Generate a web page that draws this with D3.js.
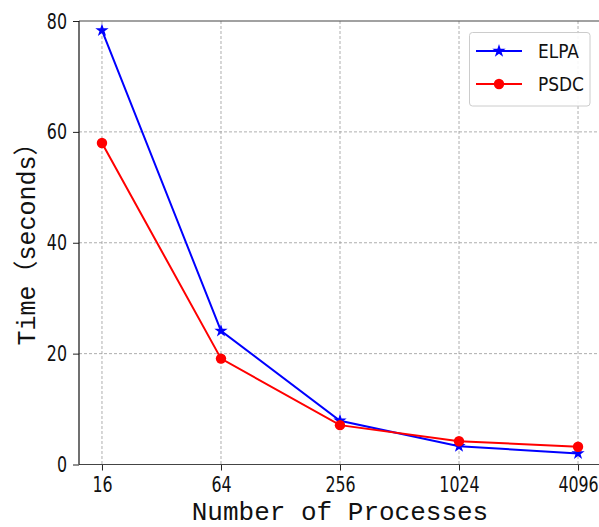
<!DOCTYPE html>
<html>
<head>
<meta charset="utf-8">
<script src="https://cdn.jsdelivr.net/npm/d3@7"></script>
<style>
  body { margin: 0; background: #fff; }
  .tick text { font-family: "DejaVu Sans", sans-serif; }
</style>
</head>
<body>
<div id="plot"></div>
<script>
// data
var procs = ["16", "64", "256", "1024", "4096"];
var elpa = [78.3, 24.1, 7.9, 3.3, 2.0];
var psdc = [58.0, 19.1, 7.1, 4.2, 3.2];
var yTicks = [0, 20, 40, 60, 80];

var width = 599, height = 527;
var mLeft = 79, mRight = 601, mTop = 21, mBottom = 464.5;
var squeeze = 0.72; // narrow look of the tick font

var svg = d3.select("#plot").append("svg")
    .attr("width", width)
    .attr("height", height);

var x = d3.scalePoint().domain(procs).range([mLeft, mRight]).padding(0.193);
var y = d3.scaleLinear().domain([0, 80]).range([mBottom, mTop]);

// grid
svg.append("g").selectAll("line")
    .data(procs).enter().append("line")
    .attr("x1", d => x(d)).attr("x2", d => x(d))
    .attr("y1", mTop).attr("y2", mBottom)
    .attr("stroke", "#999").attr("stroke-width", 0.8)
    .attr("stroke-dasharray", "3,2");
svg.append("g").selectAll("line")
    .data(yTicks.slice(1, 4)).enter().append("line")
    .attr("x1", mLeft).attr("x2", mRight)
    .attr("y1", d => y(d)).attr("y2", d => y(d))
    .attr("stroke", "#999").attr("stroke-width", 0.8)
    .attr("stroke-dasharray", "3,2");

// axes
var xAxis = svg.append("g")
    .attr("transform", "translate(0," + mBottom + ")")
    .call(d3.axisBottom(x).tickSize(6).tickPadding(6));
var yAxis = svg.append("g")
    .attr("transform", "translate(" + mLeft + ",0)")
    .call(d3.axisLeft(y).tickValues(yTicks).tickSize(6).tickPadding(6));

xAxis.select(".domain").remove();
yAxis.select(".domain").remove();
xAxis.selectAll(".tick text").attr("font-size", 22).attr("fill", "#111")
    .attr("transform", "scale(" + squeeze + ",1)");
yAxis.selectAll(".tick text").attr("font-size", 22).attr("fill", "#111")
    .attr("x", -12 / squeeze)
    .attr("transform", "scale(" + squeeze + ",1)");
xAxis.selectAll(".tick line").attr("stroke", "#222");
yAxis.selectAll(".tick line").attr("stroke", "#222");

// spines
svg.append("line").attr("x1", mLeft).attr("x2", mRight).attr("y1", mTop).attr("y2", mTop)
    .attr("stroke", "#444").attr("stroke-width", 1.2);
svg.append("line").attr("x1", mLeft).attr("x2", mRight).attr("y1", mBottom).attr("y2", mBottom)
    .attr("stroke", "#444").attr("stroke-width", 1.2);
svg.append("line").attr("x1", mLeft).attr("x2", mLeft).attr("y1", mTop).attr("y2", mBottom)
    .attr("stroke", "#111").attr("stroke-width", 1.2);
svg.append("line").attr("x1", mRight).attr("x2", mRight).attr("y1", mTop).attr("y2", mBottom)
    .attr("stroke", "#444").attr("stroke-width", 1.2);

// lines
var line = d3.line().x((d, i) => x(procs[i])).y(d => y(d));
var star = d3.symbol().type(d3.symbolStar).size(55);
var dot = d3.symbol().type(d3.symbolCircle).size(85);

svg.append("path").datum(elpa).attr("d", line)
    .attr("fill", "none").attr("stroke", "#0000ff").attr("stroke-width", 2);
svg.append("g").selectAll("path")
    .data(elpa).enter().append("path")
    .attr("d", star)
    .attr("transform", (d, i) => "translate(" + x(procs[i]) + "," + y(d) + ")")
    .attr("fill", "#0000ff");

svg.append("path").datum(psdc).attr("d", line)
    .attr("fill", "none").attr("stroke", "#ff0000").attr("stroke-width", 2);
svg.append("g").selectAll("path")
    .data(psdc).enter().append("path")
    .attr("d", dot)
    .attr("transform", (d, i) => "translate(" + x(procs[i]) + "," + y(d) + ")")
    .attr("fill", "#ff0000");

// axis titles
svg.append("text")
    .attr("x", (mLeft + mRight) / 2).attr("y", 520)
    .attr("text-anchor", "middle")
    .attr("font-family", "'Liberation Mono', 'DejaVu Sans Mono', monospace")
    .attr("font-size", 26)
    .attr("fill", "#111")
    .text("Number of Processes");

svg.append("text")
    .attr("transform", "translate(35,238) rotate(-90)")
    .attr("text-anchor", "middle")
    .attr("font-family", "'Liberation Mono', 'Noto Sans CJK SC', monospace")
    .attr("font-size", 25)
    .attr("fill", "#111")
    .text("Time\uFF08seconds\uFF09");

// legend
var legend = svg.append("g");
legend.append("rect")
    .attr("x", 469.5).attr("y", 32.5).attr("width", 120.5).attr("height", 73.5)
    .attr("rx", 3)
    .attr("fill", "#fff").attr("fill-opacity", 0.9)
    .attr("stroke", "#ccc").attr("stroke-width", 1);

var items = [
  {name: "ELPA", color: "#0000ff", sym: star, yy: 51},
  {name: "PSDC", color: "#ff0000", sym: dot, yy: 84}
];
items.forEach(function(it) {
    legend.append("line")
        .attr("x1", 476).attr("x2", 522).attr("y1", it.yy).attr("y2", it.yy)
        .attr("stroke", it.color).attr("stroke-width", 2);
    legend.append("path").attr("d", it.sym)
        .attr("transform", "translate(499," + it.yy + ")")
        .attr("fill", it.color);
    legend.append("text")
        .attr("x", 538 / 0.85).attr("y", it.yy + 7)
        .attr("transform", "scale(0.85,1)")
        .attr("font-family", "'DejaVu Sans', sans-serif")
        .attr("font-size", 20)
        .attr("fill", "#111")
        .text(it.name);
});
</script>
</body>
</html>
